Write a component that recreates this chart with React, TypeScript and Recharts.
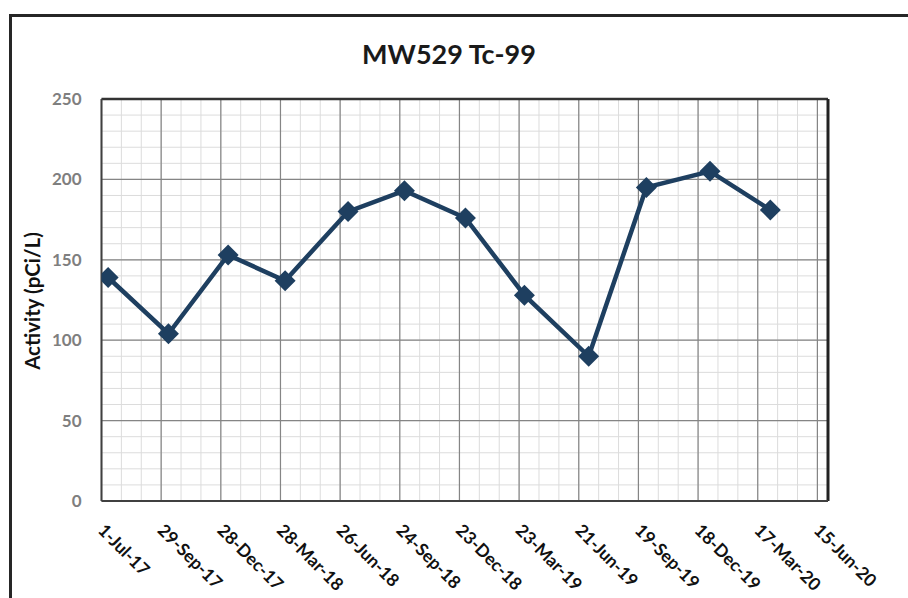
import React from "react";
import { LineChart, Line, XAxis, YAxis, CartesianGrid, ReferenceLine } from "recharts";

// sample dates and Tc-99 activity (pCi/L)
const sampleDates = [
  "2017-07-11", "2017-10-10", "2018-01-08", "2018-04-04", "2018-07-08", "2018-10-01",
  "2019-01-01", "2019-03-31", "2019-07-06", "2019-10-01", "2020-01-05", "2020-04-05",
];
const activity = [139, 104, 153, 137, 180, 193, 176, 128, 90, 195, 205, 181];

const tickDates = [
  "2017-07-01", "2017-09-29", "2017-12-28", "2018-03-28", "2018-06-26", "2018-09-24", "2018-12-23",
  "2019-03-23", "2019-06-21", "2019-09-19", "2019-12-18", "2020-03-17", "2020-06-15",
];
const tickLabels = [
  "1-Jul-17", "29-Sep-17", "28-Dec-17", "28-Mar-18", "26-Jun-18", "24-Sep-18", "23-Dec-18",
  "23-Mar-19", "21-Jun-19", "19-Sep-19", "18-Dec-19", "17-Mar-20", "15-Jun-20",
];
const yTicks = [0, 50, 100, 150, 200, 250];
const axisStart = "2017-07-01";
const axisEnd = "2020-07-01";

const toDay = (iso: string) => Date.parse(iso) / 86400000;

const xMin = toDay(axisStart);
const xMax = toDay(axisEnd);
const xTicks = tickDates.map(toDay);
const labelByDay: Record<number, string> = {};
xTicks.forEach((d, i) => (labelByDay[d] = tickLabels[i]));

const minorX: number[] = [];
for (let d = xMin; d <= xMax; d += 30) minorX.push(d);
const minorY: number[] = [];
for (let v = 0; v <= 250; v += 10) minorY.push(v);

const data = sampleDates.map((d, i) => ({ day: toDay(d), value: activity[i] }));

const FONT = "Lato, 'Open Sans', sans-serif";
const SERIES = "#1e3f60";

const Diamond = (props: any) => {
  const { cx, cy } = props;
  if (cx == null || cy == null) return null;
  const r = 10.5;
  return <polygon points={`${cx},${cy - r} ${cx + r},${cy} ${cx},${cy + r} ${cx - r},${cy}`} fill={SERIES} />;
};

const XTick = (props: any) => {
  const { x, y, payload } = props;
  return (
    <text
      x={x}
      y={y}
      transform={`rotate(45, ${x}, ${y})`}
      textAnchor="start"
      dominantBaseline="central"
      fontFamily={FONT}
      fontWeight={700}
      fontSize={17.5}
      fill="#111"
    >
      {labelByDay[payload.value]}
    </text>
  );
};

export default function App() {
  return (
    <div style={{ position: "absolute", left: 0, top: 0, width: 908, height: 598, overflow: "hidden", background: "#fff" }}>
      <div
        style={{
          position: "absolute",
          left: 9,
          top: 14,
          width: 1000,
          height: 1000,
          border: "3px solid #262626",
          boxSizing: "border-box",
        }}
      />
      <div style={{ position: "absolute", left: 0, top: 0 }}>
        <LineChart width={908} height={598} data={data} margin={{ top: 99, right: 80, bottom: 0, left: 0 }}>
          <CartesianGrid
            horizontalValues={minorY}
            verticalValues={minorX}
            stroke="#dcdcdc"
            strokeWidth={1}
          />
          <CartesianGrid
            horizontalValues={yTicks}
            verticalValues={xTicks}
            stroke="#858585"
            strokeWidth={1.2}
          />
          <XAxis
            dataKey="day"
            type="number"
            domain={[xMin, xMax]}
            ticks={xTicks}
            allowDataOverflow
            height={97}
            tickLine={false}
            tickSize={0}
            tickMargin={26}
            axisLine={{ stroke: "#404040", strokeWidth: 2 }}
            tick={<XTick />}
            interval={0}
          />
          <YAxis
            type="number"
            domain={[0, 250]}
            ticks={yTicks}
            width={101.5}
            tickLine={false}
            tickSize={0}
            tickMargin={20}
            axisLine={{ stroke: "#404040", strokeWidth: 2 }}
            tick={{ fontFamily: FONT, fontWeight: 700, fontSize: 17, fill: "#7f7f7f" }}
            interval={0}
          />
          <ReferenceLine y={250} stroke="#333" strokeWidth={2.5} />
          <ReferenceLine x={xMax} stroke="#222" strokeWidth={3} />
          <Line
            type="linear"
            dataKey="value"
            stroke={SERIES}
            strokeWidth={4.5}
            dot={<Diamond />}
            activeDot={false}
            isAnimationActive={false}
          />
        </LineChart>
      </div>
      <svg width={908} height={598} style={{ position: "absolute", left: 0, top: 0, pointerEvents: "none" }}>
        <text x={449} y={64} textAnchor="middle" fontFamily={FONT} fontWeight={700} fontSize={27} fill="#1a1a1a">
          MW529 Tc-99
        </text>
        <text
          x={32}
          y={301}
          transform="rotate(-90, 32, 301)"
          textAnchor="middle"
          dominantBaseline="central"
          fontFamily={FONT}
          fontWeight={700}
          fontSize={20.5}
          fill="#111"
        >
          Activity (pCi/L)
        </text>
      </svg>
    </div>
  );
}
